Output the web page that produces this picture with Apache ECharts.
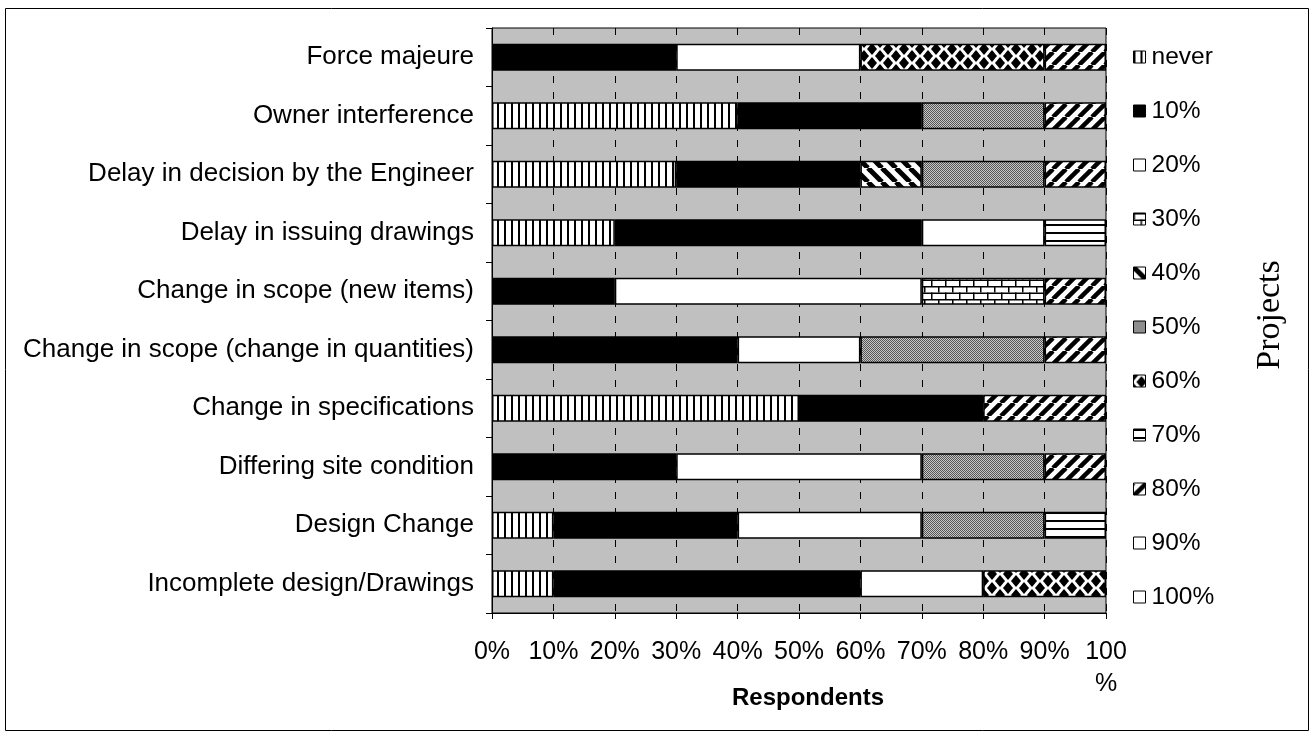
<!DOCTYPE html>
<html>
<head>
<meta charset="utf-8">
<script src="https://cdn.jsdelivr.net/npm/echarts@6/dist/echarts.min.js"></script>
<style>
  html, body { margin: 0; padding: 0; background: #fff; }
  #chart { width: 1314px; height: 737px; }
</style>
</head>
<body>
<div id="chart"></div>
<script>
// categories, top to bottom as in the picture
const causes = [
  'Force majeure',
  'Owner interference',
  'Delay in decision by the Engineer',
  'Delay in issuing drawings',
  'Change in scope (new items)',
  'Change in scope (change in quantities)',
  'Change in specifications',
  'Differing site condition',
  'Design Change',
  'Incomplete design/Drawings'
];

const seriesNames = ['never', '10%', '20%', '30%', '40%', '50%', '60%', '70%', '80%', '90%', '100%'];

// share of respondents (%) per cause, same order as causes
const never = [0, 40, 30, 20, 0, 0, 50, 0, 10, 10];
const p10 = [30, 30, 30, 50, 20, 40, 30, 30, 30, 50];
const p20 = [30, 0, 0, 20, 50, 20, 0, 40, 30, 20];
const p30 = [0, 0, 0, 0, 20, 0, 0, 0, 0, 0];
const p40 = [0, 0, 10, 0, 0, 0, 0, 0, 0, 0];
const p50 = [0, 20, 20, 0, 0, 30, 0, 20, 20, 0];
const p60 = [30, 0, 0, 0, 0, 0, 0, 0, 0, 20];
const p70 = [0, 0, 0, 10, 0, 0, 0, 0, 10, 0];
const p80 = [10, 10, 10, 0, 10, 10, 20, 10, 0, 0];
const p90 = [0, 0, 0, 0, 0, 0, 0, 0, 0, 0];
const p100 = [0, 0, 0, 0, 0, 0, 0, 0, 0, 0];

const xTicks = [0, 10, 20, 30, 40, 50, 60, 70, 80, 90, 100];

function pattern(w, h, draw) {
  const c = document.createElement('canvas');
  c.width = w;
  c.height = h;
  const ctx = c.getContext('2d');
  ctx.fillStyle = '#fff';
  ctx.fillRect(0, 0, w, h);
  ctx.fillStyle = '#000';
  ctx.strokeStyle = '#000';
  draw(ctx, w, h);
  return { image: c, repeat: 'repeat' };
}

function diagonal(forward, size, width) {
  return pattern(size, size, (ctx, w, h) => {
    ctx.lineWidth = width;
    for (const off of [-w, 0, w]) {
      ctx.beginPath();
      if (forward) {
        ctx.moveTo(off, h);
        ctx.lineTo(off + w, 0);
      } else {
        ctx.moveTo(off, 0);
        ctx.lineTo(off + w, h);
      }
      ctx.stroke();
    }
  });
}

const fills = [
  // never: vertical stripes
  pattern(7, 4, (ctx) => ctx.fillRect(0, 0, 2, 4)),
  '#000',
  '#fff',
  // 30%: bricks
  pattern(14, 13, (ctx) => {
    ctx.fillRect(0, 0, 14, 1.5);
    ctx.fillRect(0, 6.5, 14, 1.5);
    ctx.fillRect(0, 0, 1.5, 6.5);
    ctx.fillRect(7, 6.5, 1.5, 6.5);
  }),
  // 40%: backward diagonal
  diagonal(false, 14, 5),
  // 50%: fine grey dots
  pattern(2, 2, (ctx) => {
    ctx.fillStyle = '#c8c8c8';
    ctx.fillRect(0, 0, 2, 2);
    ctx.fillStyle = '#555';
    ctx.fillRect(0, 0, 1, 1);
    ctx.fillRect(1, 1, 1, 1);
  }),
  // 60%: diamonds
  pattern(16, 14, (ctx) => {
    const diamond = (cx, cy) => {
      ctx.beginPath();
      ctx.moveTo(cx, cy - 6);
      ctx.lineTo(cx + 5, cy);
      ctx.lineTo(cx, cy + 6);
      ctx.lineTo(cx - 5, cy);
      ctx.closePath();
      ctx.fill();
    };
    diamond(8, 7);
    diamond(0, 0); diamond(16, 0); diamond(0, 14); diamond(16, 14);
  }),
  // 70%: horizontal stripes
  pattern(4, 8.5, (ctx) => ctx.fillRect(0, 0, 4, 2)),
  // 80%: forward diagonal
  diagonal(true, 13, 4.5),
  '#fff',
  '#fff'
];

const values = [never, p10, p20, p30, p40, p50, p60, p70, p80, p90, p100];

const series = seriesNames.map((name, i) => ({
  name: name,
  type: 'bar',
  stack: 'total',
  barWidth: 27,
  itemStyle: {
    color: fills[i],
    borderColor: '#000',
    borderWidth: 1.5
  },
  emphasis: { disabled: true },
  data: values[i].map((v) => (v === 0 ? '-' : v))
}));

const chart = echarts.init(document.getElementById('chart'));
chart.setOption({
  animation: false,
  backgroundColor: '#fff',
  textStyle: { fontFamily: '"Liberation Sans", Arial, sans-serif' },
  grid: {
    left: 492,
    right: 208,
    top: 28,
    bottom: 124,
    show: true,
    backgroundColor: '#c0c0c0',
    borderColor: '#000',
    borderWidth: 1
  },
  legend: {
    orient: 'vertical',
    left: 1133,
    top: 44,
    padding: 0,
    itemGap: 28,
    itemWidth: 12,
    itemHeight: 12,
    icon: 'rect',
    selectedMode: false,
    data: seriesNames,
    itemStyle: { borderColor: '#000', borderWidth: 1 },
    textStyle: {
      fontSize: 24.5,
      lineHeight: 26,
      color: '#000',
      padding: [0, 0, 0, 1],
      fontFamily: '"Liberation Sans", Arial, sans-serif'
    }
  },
  xAxis: {
    type: 'value',
    min: 0,
    max: 100,
    interval: 10,
    name: 'Respondents',
    nameLocation: 'middle',
    nameGap: 73,
    nameMoveOverlap: false,
    nameTextStyle: {
      fontSize: 24,
      fontWeight: 'bold',
      color: '#000',
      padding: [0, 0, 0, 18]
    },
    axisLine: { show: true, lineStyle: { color: '#000', width: 1 } },
    axisTick: { show: true, length: 6, lineStyle: { color: '#000' } },
    axisLabel: {
      fontSize: 25,
      color: '#000',
      margin: 23,
      lineHeight: 32,
      hideOverlap: false,
      customValues: xTicks,
      formatter: (v) => (v === 100 ? '100\n%' : v + '%')
    },
    splitLine: {
      show: true,
      lineStyle: { color: '#000', type: [7, 9], width: 1 }
    }
  },
  yAxis: {
    type: 'category',
    inverse: true,
    data: causes,
    axisLine: { show: true, lineStyle: { color: '#000', width: 1 } },
    axisTick: { show: true, length: 6, lineStyle: { color: '#000' } },
    axisLabel: { fontSize: 26, color: '#000', margin: 18 },
    splitLine: { show: false }
  },
  graphic: [
    {
      type: 'rect',
      shape: { x: 5.5, y: 8.5, width: 1303, height: 722 },
      style: { fill: 'none', stroke: '#000', lineWidth: 1 },
      silent: true
    },
    {
      type: 'text',
      x: 1270,
      y: 315,
      rotation: Math.PI / 2,
      style: {
        text: 'Projects',
        fontSize: 34,
        fontFamily: '"Liberation Serif", "Times New Roman", serif',
        fill: '#000',
        align: 'center',
        verticalAlign: 'middle'
      }
    }
  ],
  series: series
});
</script>
</body>
</html>
